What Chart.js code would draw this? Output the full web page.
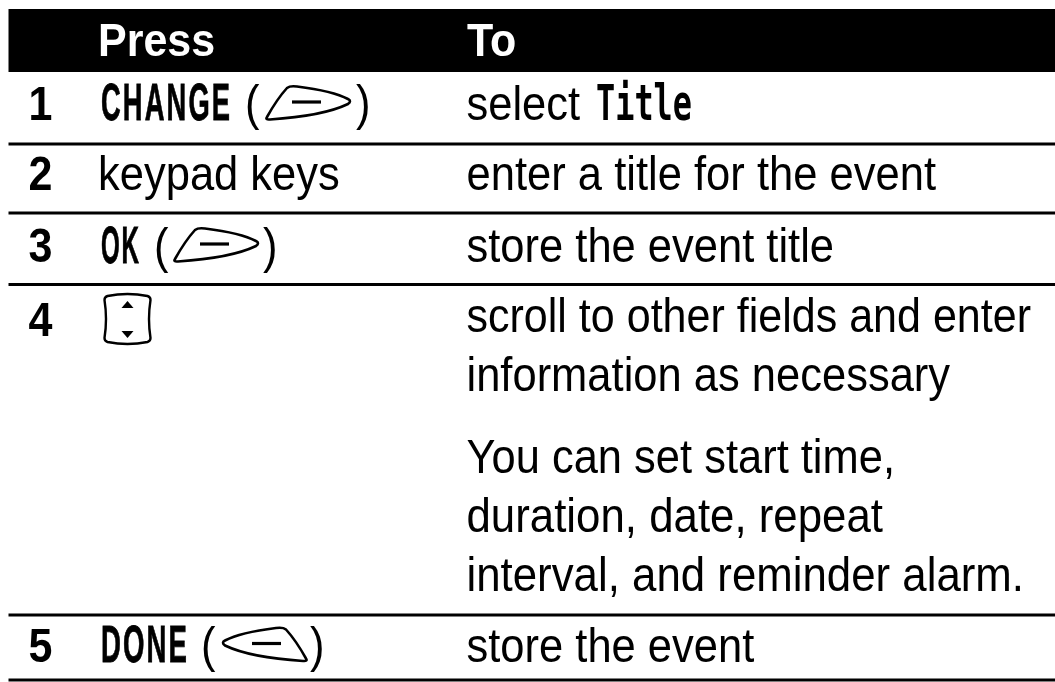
<!DOCTYPE html>
<html><head><meta charset="utf-8">
<style>html,body{margin:0;padding:0;background:#fff}canvas{display:block}</style>
<script src="https://cdn.jsdelivr.net/npm/chart.js@4"></script>
</head><body><div style="width:1055px;height:682px"><canvas id="c" width="1055" height="682"></canvas></div>
<script>
const headers = ["Press", "To"];
const steps = ["1", "2", "3", "4", "5"];
const pressLabels = ["CHANGE", "keypad keys", "OK", "", "DONE"];
const toLines = ["select", "enter a title for the event", "store the event title",
   "scroll to other fields and enter", "information as necessary",
   "You can set start time,", "duration, date, repeat", "interval, and reminder alarm.", "store the event"];
const toBaselines = [120, 190, 262, 332, 391, 473, 532, 591, 662];
const toRightEdges = [0, 936, 0, 1031, 0, 895, 883, 1024, 0];
const stepBaselines = [120, 190, 262, 336, 662];
const ruleRows = [144, 213, 284.5, 615, 680];
const headerBand = [9, 72];
const tableSpan = [8.5, 1055];

const sans = '"Liberation Sans", Arial, sans-serif';
const INK = '#000';

function softKey(ctx, x, y, flip) {
  ctx.save();
  ctx.translate(x, y);
  if (flip) ctx.scale(-1, 1);
  ctx.strokeStyle = INK; ctx.lineWidth = 2.6; ctx.lineJoin = 'round';
  ctx.beginPath();
  ctx.moveTo(-41, 14);
  ctx.quadraticCurveTo(-31, -4, -21, -15);
  ctx.quadraticCurveTo(-18, -17.5, -11, -16.5);
  ctx.quadraticCurveTo(25, -12, 40, -4);
  ctx.quadraticCurveTo(44, -2, 40, 1);
  ctx.quadraticCurveTo(15, 13, -38, 16.5);
  ctx.quadraticCurveTo(-43, 17, -41, 14);
  ctx.closePath();
  ctx.stroke();
  ctx.lineWidth = 3.2; ctx.lineCap = 'butt';
  ctx.beginPath(); ctx.moveTo(-16, -1); ctx.lineTo(13, -1); ctx.stroke();
  ctx.restore();
}
function navKey(ctx, x, y) {
  ctx.save(); ctx.translate(x, y);
  ctx.strokeStyle = INK; ctx.lineWidth = 2.4; ctx.lineJoin = 'round';
  ctx.beginPath();
  ctx.moveTo(-20, -23);
  ctx.quadraticCurveTo(0, -27, 20, -23);
  ctx.quadraticCurveTo(23, -22, 23, -19);
  ctx.quadraticCurveTo(20, 0, 23, 19);
  ctx.quadraticCurveTo(23, 22, 20, 23);
  ctx.quadraticCurveTo(0, 27, -20, 23);
  ctx.quadraticCurveTo(-23, 22, -23, 19);
  ctx.quadraticCurveTo(-20, 0, -23, -19);
  ctx.quadraticCurveTo(-23, -22, -20, -23);
  ctx.closePath(); ctx.stroke();
  ctx.fillStyle = INK;
  ctx.beginPath(); ctx.moveTo(0,-18); ctx.lineTo(6,-11); ctx.lineTo(-6,-11); ctx.closePath(); ctx.fill();
  ctx.beginPath(); ctx.moveTo(0,19); ctx.lineTo(6,12); ctx.lineTo(-6,12); ctx.closePath(); ctx.fill();
  ctx.restore();
}
function keyWord(ctx, txt, x, y, targetW) {
  ctx.save();
  ctx.font = 'bold 52px "Liberation Sans Narrow", ' + sans;
  ctx.letterSpacing = '4px';
  const w = ctx.measureText(txt).width - 4;
  ctx.translate(x, y); ctx.scale(targetW / w, 1);
  ctx.lineWidth = 0.8; ctx.strokeStyle = INK;
  ctx.strokeText(txt, 0, 0);
  ctx.fillText(txt, 0, 0);
  ctx.restore();
}
function tall(ctx, txt, x, y, sy, sx) {
  ctx.save(); ctx.translate(x, y); ctx.scale(sx || 1, sy); ctx.fillText(txt, 0, 0); ctx.restore();
}
const tablePlugin = {
  id: 'tableText',
  afterDatasetsDraw(chart) {
    const {ctx, scales: {x: xs, y: ys}} = chart;
    const X = v => xs.getPixelForValue(v), Y = v => ys.getPixelForValue(v);
    ctx.save();
    ctx.textBaseline = 'alphabetic'; ctx.textAlign = 'left';
    ctx.fillStyle = '#fff'; ctx.font = 'bold 43px ' + sans;
    tall(ctx, headers[0], X(98), Y(56), 1.08);
    tall(ctx, headers[1], X(467), Y(56), 1.08);
    ctx.fillStyle = INK;
    steps.forEach((s, i) => tall(ctx, s, X(28.5), Y(stepBaselines[i]), 1.12));
    ctx.font = '43.5px ' + sans;
    toLines.forEach((t, i) => {
      const left = X(466.5);
      const sx = toRightEdges[i] ? (X(toRightEdges[i]) - left) / ctx.measureText(t).width : 1;
      tall(ctx, t, left, Y(toBaselines[i]), 1.12, sx);
    });
    tall(ctx, pressLabels[1], X(98), Y(toBaselines[1]), 1.12);
    keyWord(ctx, pressLabels[0], X(101), Y(120), 129);
    keyWord(ctx, pressLabels[2], X(101), Y(263), 38);
    keyWord(ctx, pressLabels[4], X(101), Y(662), 86);
    ctx.font = '43.5px ' + sans;
    tall(ctx, '(', 245, 120, 1.15); tall(ctx, ')', 356, 120, 1.15);
    tall(ctx, '(', 154, 263, 1.15); tall(ctx, ')', 263, 263, 1.15);
    tall(ctx, '(', 201, 662, 1.15); tall(ctx, ')', 310, 662, 1.15);
    softKey(ctx, 308, 103, false);
    softKey(ctx, 216, 245, false);
    softKey(ctx, 265, 644.5, true);
    navKey(ctx, 127.5, 319);
    ctx.save();
    ctx.font = 'bold 40px "DejaVu Sans Mono", monospace';
    const tw = ctx.measureText('Title').width;
    ctx.translate(596, 120); ctx.scale(96 / tw, 1.25);
    ctx.fillText('Title', 0, 0);
    ctx.restore();
    ctx.restore();
  }
};
const ruleSets = ruleRows.map(r => ({
  type: 'line', data: tableSpan.map(v => ({x: v, y: r})),
  borderColor: INK, borderWidth: 3, pointRadius: 0, tension: 0
}));
const headerSet = {
  type: 'line',
  data: tableSpan.map(v => ({x: v, y: (headerBand[0] + headerBand[1]) / 2})),
  borderColor: INK, borderWidth: headerBand[1] - headerBand[0], pointRadius: 0, borderCapStyle: 'butt'
};
new Chart(document.getElementById('c'), {
  type: 'line',
  data: {datasets: [headerSet, ...ruleSets]},
  options: {
    responsive: false, animation: false, parsing: false, normalized: true,
    layout: {padding: 0},
    plugins: {legend: {display: false}, tooltip: {enabled: false}, title: {display: false}},
    scales: {
      x: {type: 'linear', display: false, min: 0, max: 1055},
      y: {type: 'linear', display: false, min: 0, max: 682, reverse: true}
    }
  },
  plugins: [tablePlugin]
});
</script></body></html>
